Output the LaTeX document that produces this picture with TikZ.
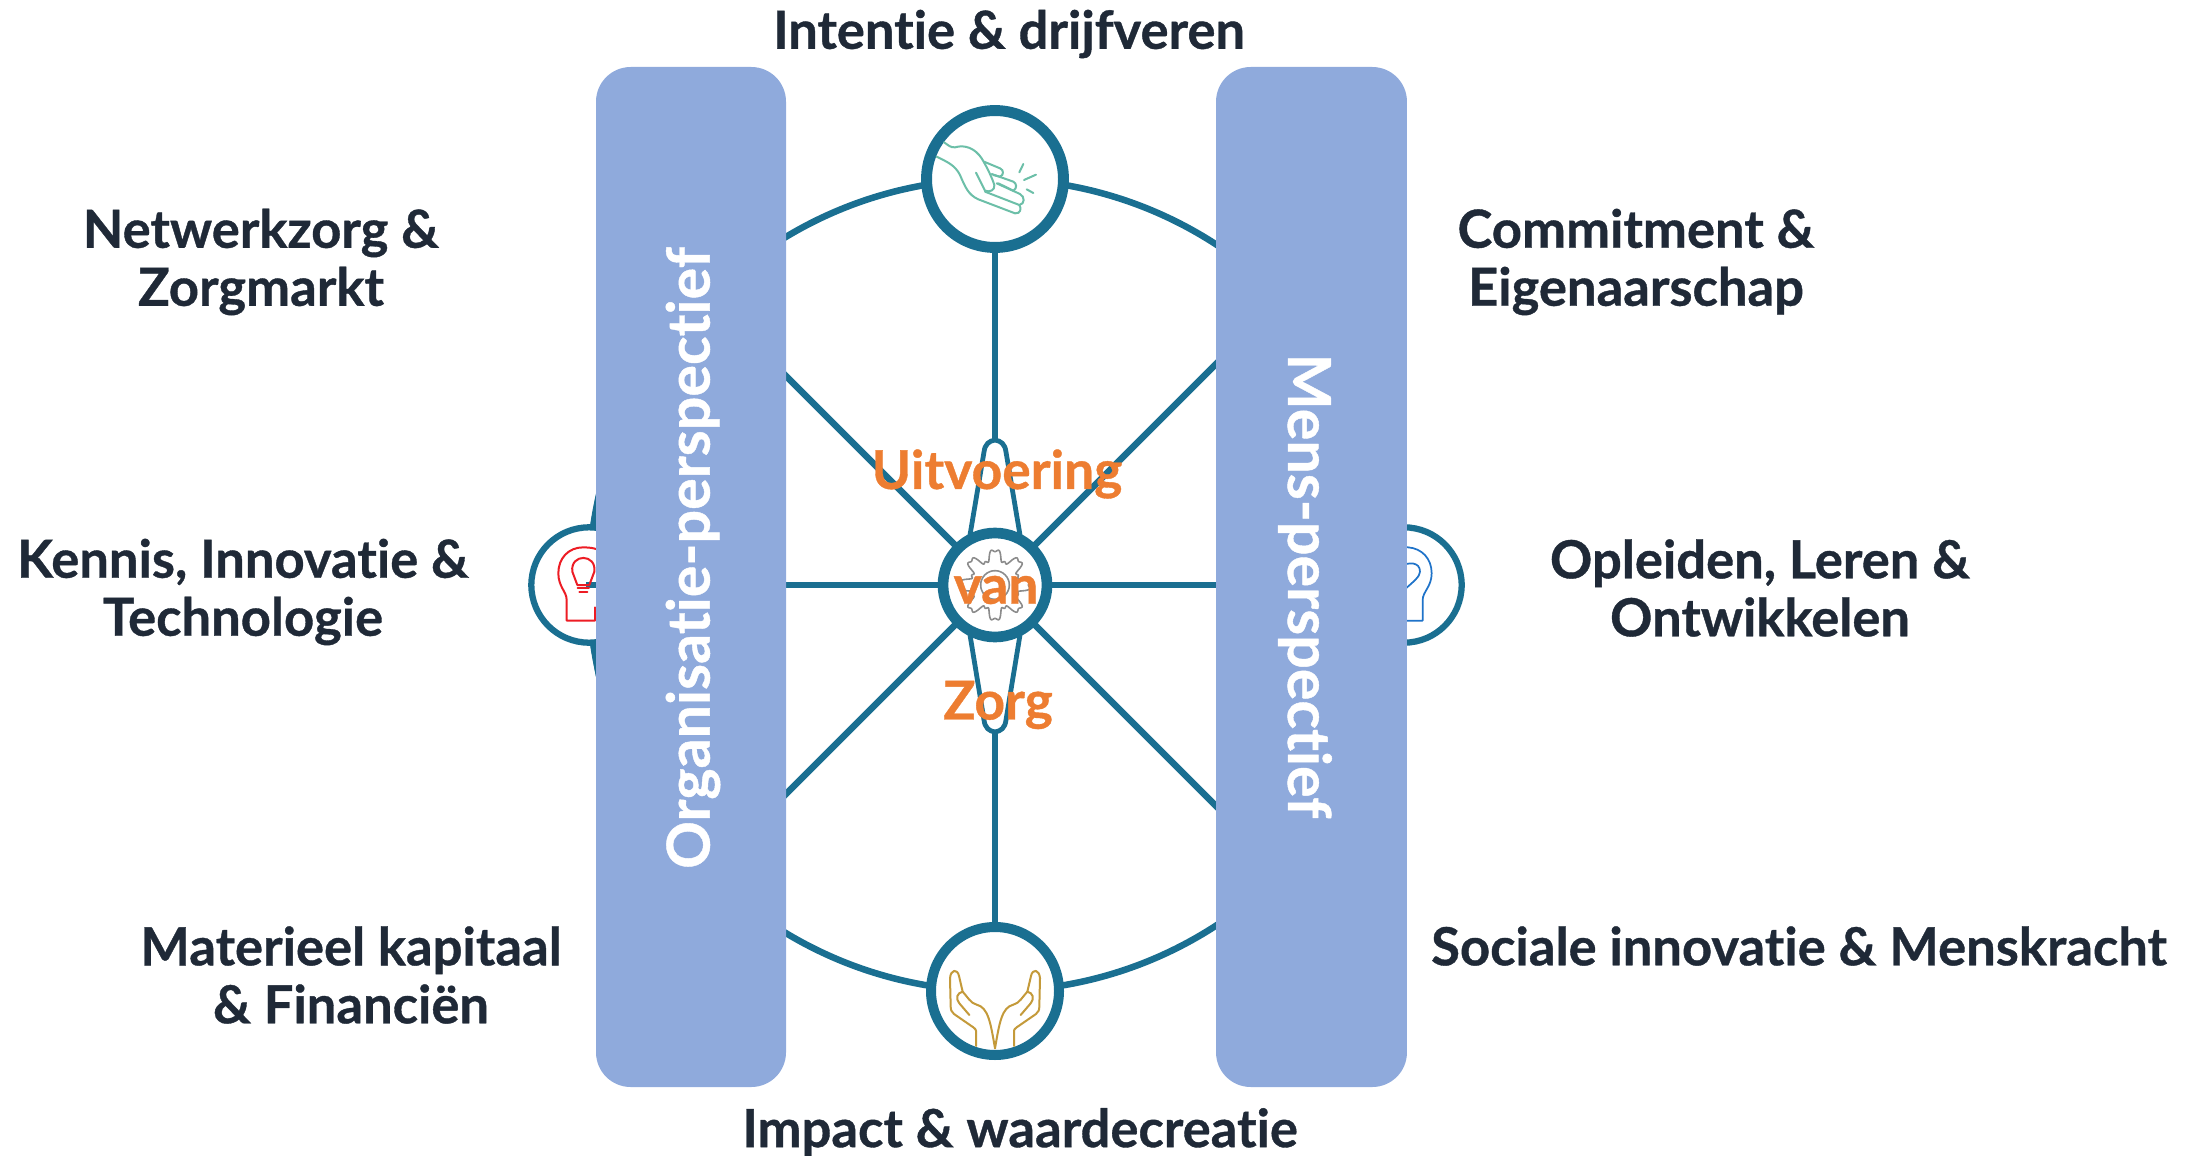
\documentclass[tikz,border=0pt]{standalone}
\usepackage{fontspec}
\setmainfont{Lato}[Ligatures=NoCommon,BoldFeatures={FakeBold=0.7}]
\definecolor{wheelblue}{RGB}{26,111,145}
\definecolor{barblue}{RGB}{143,170,220}
\definecolor{labeldark}{RGB}{31,41,55}
\definecolor{coreorange}{RGB}{237,125,49}
\definecolor{handgreen}{RGB}{108,191,168}
\definecolor{handgold}{RGB}{196,154,58}
\definecolor{gearGray}{RGB}{140,140,140}
\definecolor{bulbred}{RGB}{237,28,36}
\definecolor{bulbblue}{RGB}{31,115,201}
\tikzset{
  ring/.style={draw=wheelblue,circle,fill=white,inner sep=0pt},
  spoke/.style={draw=wheelblue,line width=4.9pt},
  bar/.style={fill=barblue,rounded corners=26pt,inner sep=0pt,minimum width=142.5pt,minimum height=765pt},
  label/.style={text=labeldark,font=\fontsize{39.4}{43.5}\selectfont\bfseries,align=center,inner sep=0pt},
  barlabel/.style={text=white,font=\fontsize{44.4}{50}\selectfont\bfseries,inner sep=0pt},
  corelabel/.style={text=coreorange,font=\fontsize{40}{46}\selectfont\bfseries,inner sep=0pt},
  icon/.style={line width=#1,line cap=round,line join=round},
  icon/.default=1.3pt
}
\begin{document}
\begin{tikzpicture}[x=0.75pt,y=0.75pt,yscale=-1,xscale=1]
\useasboundingbox (0,0) rectangle (2200,1156);
% wheel and spokes
\node [draw=wheelblue,circle,line width=4.9pt,inner sep=0pt,minimum size=609pt] (wheel) at (995,585) {};
\coordinate (spintop) at (995,440);
\coordinate (spinbot) at (995,732);
\node [ring,line width=8.2pt,minimum size=102.7pt] (intent) at (995,179) {};
\node [ring,line width=7.5pt,minimum size=96pt] (impact) at (995,991) {};
\node [ring,line width=4.7pt,minimum size=86.5pt] (kennis) at (589,585) {};
\node [ring,line width=4.7pt,minimum size=86.5pt] (leren) at (1404,585) {};
\draw [spoke] (intent) -- (spintop);
\draw [spoke] (impact) -- (spinbot);
\path [fill=wheelblue] (596,495) -- (590,527) -- (596,527) -- cycle;
\path [fill=wheelblue] (596,677) -- (590,643) -- (596,643) -- cycle;
\draw [spoke] (wheel.center) -- (wheel.45);
\draw [spoke] (wheel.center) -- (wheel.135);
\draw [spoke] (wheel.center) -- (wheel.225);
\draw [spoke] (wheel.center) -- (wheel.315);
\draw [spoke] (wheel.center) -- (wheel.west);
\draw [spoke] (wheel.center) -- (wheel.east);
\draw [draw=wheelblue,line width=3.6pt,line join=round] (970,535) -- (984,452) .. controls (985,444) and (989,441) .. (spintop) .. controls (1001,441) and (1005,444) .. (1006,452) -- (1020,535);
\draw [draw=wheelblue,line width=3.6pt,line join=round] (970,635) -- (984,720) .. controls (985,728) and (989,731) .. (spinbot) .. controls (1001,731) and (1005,728) .. (1006,720) -- (1020,635);
\node [ring,line width=8pt,minimum size=78pt] (hub) at (995,585) {};
% icons
\begin{scope}[shift={(850,80)},x=0.25pt,y=0.25pt,draw=handgreen,icon=1.5pt]
\draw (282,187) .. controls (295,195) and (300,203) .. (315,202) .. controls (345,193) and (375,205) .. (395,235) .. controls (410,260) and (425,290) .. (433,315) .. controls (435,330) and (420,338) .. (405,332) -- (378,278);
\draw (260,230) .. controls (290,245) and (315,255) .. (330,285) .. controls (345,320) and (355,345) .. (385,358) -- (495,400) .. controls (512,402) and (515,385) .. (508,375);
\draw (405,335) -- (508,375) .. controls (525,372) and (525,350) .. (510,342) -- (440,310);
\draw (445,310) -- (490,332) .. controls (502,325) and (500,310) .. (490,305) -- (425,282);
\draw (430,285) -- (450,290) .. controls (462,285) and (462,270) .. (450,265) -- (402,245);
\draw (508,277) -- (520,252);
\draw (522,300) -- (558,284);
\draw (530,328) -- (550,339);
\end{scope}
\begin{scope}[shift={(840,420)},x=0.25pt,y=0.25pt,draw=gearGray,icon=1.2pt]
\draw plot [domain=0:360,samples=241,smooth] ({465+(88+18*(cos(8*\x)-0.33*cos(24*\x)))*cos(\x)},{495+(88+18*(cos(8*\x)-0.33*cos(24*\x)))*sin(\x)}) -- cycle;
\draw (465,495) circle (43);
\end{scope}
\begin{scope}[shift={(880,900)},x=0.25pt,y=0.25pt,draw=handgold,icon=1.5pt]
\draw (288,438) -- (288,392) .. controls (287,388) and (285,386) .. (280,382) -- (222,342) .. controls (214,335) and (212,330) .. (212,318) -- (210,235) .. controls (212,208) and (232,205) .. (237,228) -- (248,275) .. controls (262,290) and (272,310) .. (290,314) .. controls (325,322) and (332,370) .. (345,445);
\draw (248,275) .. controls (232,278) and (225,295) .. (238,310) -- (268,345);
\draw (402,438) -- (402,392) .. controls (403,388) and (405,386) .. (410,382) -- (468,342) .. controls (476,335) and (478,330) .. (478,318) -- (480,235) .. controls (478,208) and (458,205) .. (453,228) -- (442,275) .. controls (428,290) and (418,310) .. (400,314) .. controls (365,322) and (358,370) .. (345,445);
\draw (442,275) .. controls (458,278) and (465,295) .. (452,310) -- (422,345);
\end{scope}
\begin{scope}[shift={(500,470)},x=0.25pt,y=0.25pt,draw=bulbred,icon=1.5pt]
\draw (320,252) .. controls (295,235) and (270,232) .. (250,232) .. controls (205,232) and (175,265) .. (175,310) .. controls (175,350) and (200,365) .. (200,390) -- (200,452) -- (285,452) -- (285,412);
\draw (232,345) -- (217,305) .. controls (210,250) and (290,250) .. (283,305) -- (268,345) -- cycle;
\draw (233,355) -- (267,355);
\draw (238,366) -- (262,366);
\end{scope}
\begin{scope}[shift={(1380,470)},x=0.25pt,y=0.25pt,draw=bulbblue,icon=1.3pt]
\draw (50,232) -- (84,232) .. controls (125,235) and (155,265) .. (155,310) .. controls (155,350) and (128,365) .. (128,390) -- (128,452) -- (50,452);
\draw (60,290) .. controls (85,275) and (120,275) .. (120,305) .. controls (120,320) and (100,335) .. (70,362);
\end{scope}
% perspective bars
\node [bar] (orgbar) at (691,577) {};
\node [bar,minimum width=143.2pt] (mensbar) at (1311.5,577) {};
\node [barlabel,rotate=90] (orgtext) at (693,558) {Organisatie-perspectief};
\node [barlabel,rotate=-90] (menstext) at (1305,586) {Mens-perspectief};
% labels
\node [label] (intenttext) at (1009,34) {Intentie \& drijfveren};
\node [label] (netwerk) at (261,262) {Netwerkzorg \&\\Zorgmarkt};
\node [label] (innovatie) at (243,592) {Kennis, Innovatie \&\\Technologie};
\node [label] (kapitaal) at (351,975) {Materieel kapitaal\\\& Financiën};
\node [label] (impacttext) at (1020,1132) {Impact \& waardecreatie};
\node [label] (commitment) at (1636,262) {Commitment \&\\Eigenaarschap};
\node [label] (opleiden) at (1760,588) {Opleiden, Leren \&\\Ontwikkelen};
\node [label] (sociaal) at (1799,946) {Sociale innovatie \& Menskracht};
% core text
\node [corelabel] (uitvoering) at (997,474) {Uitvoering};
\node [corelabel] (van) at (996,590) {van};
\node [corelabel] (zorg) at (998,705) {Zorg};
\end{tikzpicture}
\end{document}
